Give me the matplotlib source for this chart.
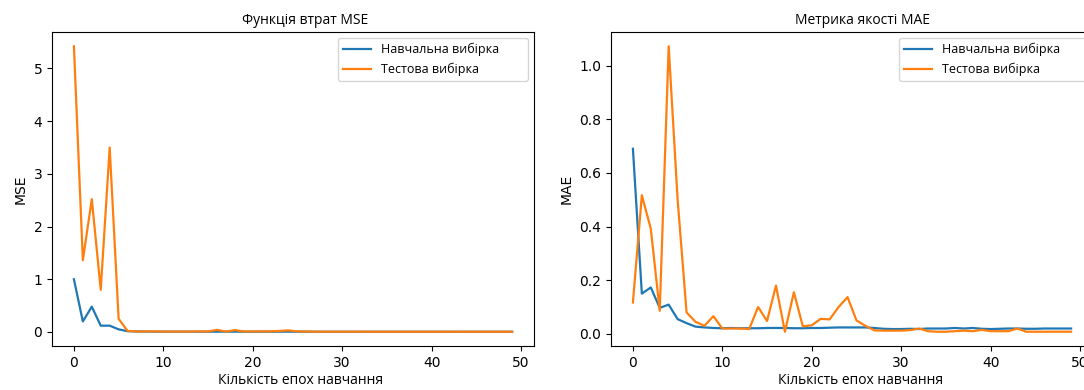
import matplotlib
matplotlib.use('Agg')
import numpy as np
import matplotlib.pyplot as plt

# epochs
epochs = np.arange(50)

# MSE loss values
mse_train = [1.0, 0.2, 0.48, 0.12, 0.12, 0.05, 0.015, 0.01, 0.008, 0.007,
             0.006, 0.006, 0.006, 0.006, 0.006, 0.006, 0.006, 0.006, 0.006, 0.006,
             0.006, 0.006, 0.006, 0.006, 0.006, 0.006, 0.006, 0.005, 0.005, 0.005,
             0.005, 0.005, 0.005, 0.005, 0.005, 0.005, 0.005, 0.005, 0.005, 0.005,
             0.005, 0.005, 0.005, 0.005, 0.005, 0.005, 0.005, 0.005, 0.005, 0.005]
mse_test = [5.42, 1.36, 2.52, 0.8, 3.5, 0.25, 0.02, 0.01, 0.01, 0.012,
            0.008, 0.008, 0.008, 0.008, 0.012, 0.01, 0.04, 0.008, 0.035, 0.01,
            0.01, 0.012, 0.012, 0.02, 0.03, 0.012, 0.01, 0.006, 0.006, 0.006,
            0.006, 0.006, 0.006, 0.005, 0.005, 0.005, 0.005, 0.005, 0.005, 0.005,
            0.005, 0.005, 0.005, 0.006, 0.005, 0.005, 0.005, 0.005, 0.005, 0.005]

# MAE metric values
mae_train = [0.69, 0.15, 0.173, 0.097, 0.109, 0.055, 0.04, 0.027, 0.024, 0.022,
             0.021, 0.022, 0.021, 0.021, 0.021, 0.022, 0.022, 0.022, 0.021, 0.021,
             0.022, 0.022, 0.023, 0.024, 0.024, 0.024, 0.024, 0.022, 0.019, 0.018,
             0.018, 0.019, 0.018, 0.02, 0.02, 0.02, 0.022, 0.02, 0.022, 0.019,
             0.018, 0.019, 0.02, 0.02, 0.019, 0.019, 0.02, 0.02, 0.02, 0.02]
mae_test = [0.117, 0.517, 0.392, 0.086, 1.072, 0.5, 0.08, 0.045, 0.03, 0.066,
            0.02, 0.02, 0.02, 0.018, 0.1, 0.048, 0.18, 0.008, 0.155, 0.028,
            0.032, 0.056, 0.054, 0.1, 0.137, 0.05, 0.03, 0.013, 0.012, 0.012,
            0.012, 0.014, 0.02, 0.01, 0.008, 0.008, 0.01, 0.012, 0.01, 0.015,
            0.01, 0.01, 0.01, 0.02, 0.008, 0.008, 0.008, 0.008, 0.008, 0.008]

train_label = 'Навчальна вибірка'
test_label = 'Тестова вибірка'
xlabel = 'Кількість епох навчання'

cyr = ['Open Sans', 'DejaVu Sans']

fig = plt.figure(figsize=(10.84, 3.9), dpi=100)
# the right panel runs a bit past the right edge, like the cropped original
ax1 = fig.add_axes([52 / 1084, 44 / 390, 482 / 1084, 314 / 390])
ax2 = fig.add_axes([611 / 1084, 44 / 390, 482 / 1084, 314 / 390])

panels = [
    (ax1, mse_train, mse_test, 'Функція втрат MSE', 'MSE', 0.525, 0.515, 0.593),
    (ax2, mae_train, mae_test, 'Метрика якості MAE', 'MAE', 0.521, 0.517, 0.598),
]

for ax, tr, te, title, ylab, tx, lx, legx in panels:
    ax.plot(epochs, tr, label=train_label, lw=1.6)
    ax.plot(epochs, te, label=test_label, lw=1.6)
    ax.set_title(title, fontsize=10, family=cyr, x=tx)
    ax.set_xlabel(xlabel, fontsize=10, family=cyr, x=lx, labelpad=2)
    ax.set_ylabel(ylab, fontsize=10)
    ax.set_xticks([0, 10, 20, 30, 40, 50])
    ax.tick_params(labelsize=10)
    ax.legend(loc='upper left', bbox_to_anchor=(legx, 0, 0.394, 0.981),
              mode='expand', borderaxespad=0, handlelength=2.25,
              handletextpad=0.8, prop={'family': cyr, 'size': 9})

fig.savefig('out.png', dpi=100)
